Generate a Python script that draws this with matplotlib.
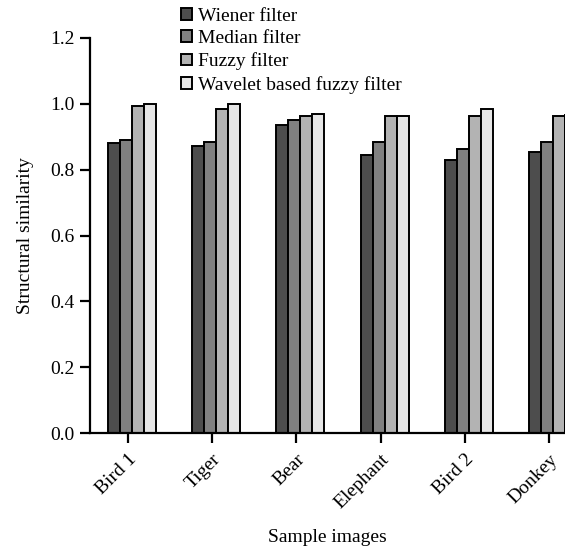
import numpy as np
import matplotlib.pyplot as plt
from matplotlib.patches import Patch

plt.rcParams['font.family'] = ['Liberation Serif', 'DejaVu Serif']

categories = ['Bird 1', 'Tiger', 'Bear', 'Elephant', 'Bird 2', 'Donkey']
series_names = ['Wiener filter', 'Median filter', 'Fuzzy filter', 'Wavelet based fuzzy filter']
wiener = [0.882, 0.872, 0.935, 0.845, 0.828, 0.855]
median = [0.891, 0.885, 0.952, 0.883, 0.862, 0.883]
fuzzy = [0.993, 0.985, 0.962, 0.962, 0.964, 0.963]
wavelet = [1.001, 1.001, 0.970, 0.964, 0.983, 0.965]
series = [wiener, median, fuzzy, wavelet]
colors = ['#4d4d4d', '#808080', '#b3b3b3', '#e6e6e6']

fs = 14

fig = plt.figure(figsize=(5.65, 5.52), dpi=100)
ax = fig.add_axes([90 / 565, 119 / 552, 1 - 90 / 565, 395 / 552])

x = np.arange(len(categories))
width = 0.143
shift = 0.048
for i, (vals, c) in enumerate(zip(series, colors)):
    ax.bar(x + shift + (i - 1.5) * width, vals, width, color=c,
           edgecolor='black', linewidth=1.4, label=series_names[i])

ax.set_xlim(-0.45, 5.19)
ax.set_ylim(0, 1.2)
yt = np.arange(0, 1.21, 0.2)
ax.set_yticks(yt)
ax.set_yticklabels([f'{v:.1f}' for v in yt], fontsize=fs)
ax.set_xticks(x)
ax.set_xticklabels(categories, rotation=45, ha='right', rotation_mode='anchor', fontsize=fs)
ax.tick_params(axis='both', direction='out', length=7, width=1.6, pad=4)
ax.tick_params(axis='x', pad=6)
for side in ['top', 'right']:
    ax.spines[side].set_visible(False)
for side in ['left', 'bottom']:
    ax.spines[side].set_linewidth(1.6)

ax.set_ylabel('Structural similarity', fontsize=fs, labelpad=12)
ax.set_xlabel('Sample images', fontsize=fs, labelpad=12)

handles = [Patch(facecolor=c, edgecolor='black', linewidth=1.4) for c in colors]
fig.legend(handles, series_names, loc='upper left', bbox_to_anchor=(181 / 565, 1 - 8 / 552),
           frameon=False, fontsize=fs, handlelength=0.57, handleheight=0.57,
           handletextpad=0.3, labelspacing=0.27, borderpad=0, borderaxespad=0)

fig.savefig('out.png', dpi=100)
